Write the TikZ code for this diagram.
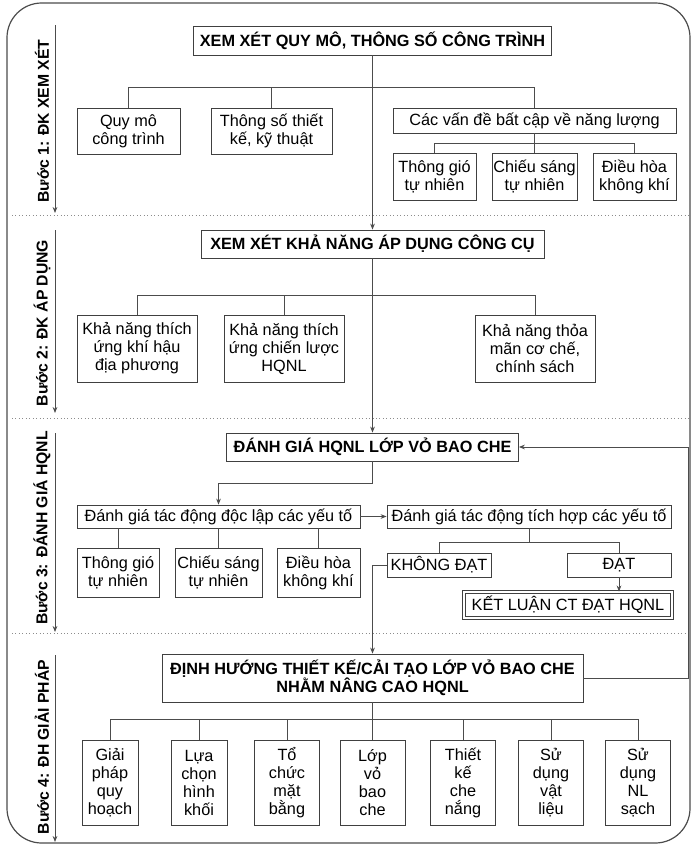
\documentclass[tikz,border=0pt]{standalone}
\usepackage{fontspec}
\setmainfont{Liberation Sans}
\usetikzlibrary{arrows.meta}
\newcommand{\pxu}{0.75pt}
\begin{document}
\begin{tikzpicture}[
  x=0.75pt, y=-0.75pt,
  box/.style={draw=black!75, line width=0.6pt, fill=white, align=center,
              inner sep=1pt, font=\fontsize{12.2}{13.5}\selectfont},
  title/.style={box, font=\fontsize{12.2}{13.5}\selectfont\bfseries},
  result/.style={box, line width=0.7pt, double=white, double distance=1pt},
  stage/.style={rotate=90, font=\fontsize{11.8}{14}\selectfont\bfseries},
  wh/.style 2 args={minimum width=#1*\pxu, minimum height=#2*\pxu},
  link/.style={draw=black!70, line width=0.6pt},
  arr/.style={link, -{Stealth[length=4.5pt, width=3.5pt]}},
  sep/.style={draw=black!45, dotted, line width=0.6pt},
  frame/.style={draw=black!70, line width=0.9pt, rounded corners=26pt}
]
\useasboundingbox (0,0) rectangle (693,846);
\draw[frame] (7,3) rectangle (690,843);

% separators between the steps
\draw[sep] (12,215) -- (690,215);
\draw[sep] (12,418) -- (690,418);
\draw[sep] (12,633) -- (690,633);

% step labels with their arrows
\node[stage] (stepa) at (42,121) {Bước 1: ĐK XEM XÉT};
\node[stage] (stepb) at (42,323) {Bước 2: ĐK ÁP DỤNG};
\node[stage] (stepc) at (42,528) {Bước 3: ĐÁNH GIÁ HQNL};
\node[stage] (stepd) at (42,747) {Bước 4: ĐH GIẢI PHÁP};
\foreach \a/\b [count=\i] in {25/213, 230/413, 433/632, 655/842} {
  \coordinate (st\i top) at (55,\a);
  \coordinate (st\i bot) at (55,\b);
  \draw[arr] (st\i top) -- (st\i bot);
}

% Buoc 1
\node[title, wh={358}{29}] (scale) at (372.5,40.5) {XEM XÉT QUY MÔ, THÔNG SỐ CÔNG TRÌNH};
\node[box, wh={103}{46}] (size)   at (128.5,131) {Quy mô\\công trình};
\node[box, wh={121}{46}] (spec)   at (271.5,131) {Thông số thiết\\kế, kỹ thuật};
\node[box, wh={283}{25}] (issue)  at (534.5,120.5) {Các vấn đề bất cập về năng lượng};
\node[box, wh={83}{47}]  (venta)  at (434.5,176.5) {Thông gió\\tự nhiên};
\node[box, wh={85}{47}]  (lighta) at (534.5,176.5) {Chiếu sáng\\tự nhiên};
\node[box, wh={83}{47}]  (hvaca)  at (634.5,176.5) {Điều hòa\\không khí};

\draw[link] (size.north) -- ++(0,-20) -| (issue.north);
\draw[link] (spec.north) -- ++(0,-20);
\draw[link] (venta.north) -- ++(0,-9) -| (hvaca.north);
\draw[link] (issue.south) -- (lighta.north);

% Buoc 2
\node[title, wh={343}{28}] (apply)    at (372.5,244) {XEM XÉT KHẢ NĂNG ÁP DỤNG CÔNG CỤ};
\node[box, wh={120}{67}]   (climate)  at (137,348.5) {Khả năng thích\\ứng khí hậu\\địa phương};
\node[box, wh={120}{67}]   (strategy) at (284,348.5) {Khả năng thích\\ứng chiến lược\\HQNL};
\node[box, wh={120}{67}]   (policy)   at (535,348.5) {Khả năng thỏa\\mãn cơ chế,\\chính sách};

\draw[link] (climate.north) -- ++(0,-19) -| (policy.north);
\draw[link] (strategy.north) -- ++(0,-19);
\draw[arr] (scale.south) -- (apply.north);

% Buoc 3
\node[title, wh={292}{28}] (eval)   at (372.5,447) {ĐÁNH GIÁ HQNL LỚP VỎ BAO CHE};
\node[box, wh={283}{23}]   (indep)  at (218.5,516.5) {Đánh giá tác động độc lập các yếu tố};
\node[box, wh={284}{23}]   (integ)  at (529,516.5) {Đánh giá tác động tích hợp các yếu tố};
\node[box, wh={82}{49}]    (ventb)  at (118,572.5) {Thông gió\\tự nhiên};
\node[box, wh={87}{49}]    (lightb) at (218.5,572.5) {Chiếu sáng\\tự nhiên};
\node[box, wh={83}{49}]    (hvacb)  at (318.5,572.5) {Điều hòa\\không khí};
\node[box, wh={104}{24}]   (fail)   at (439,565) {KHÔNG ĐẠT};
\node[box, wh={104}{24}]   (pass)   at (619,565) {ĐẠT};
\node[result, wh={208}{26}] (concl) at (568,605) {KẾT LUẬN CT ĐẠT HQNL};

\draw[arr] (apply.south) -- (eval.north);
\draw[arr] (eval.south) -- ++(0,22) -| (indep.north);
\draw[arr] (indep.east) -- (integ.west);
\draw[link] (indep.south -| ventb.north) -- (ventb.north);
\draw[link] (indep.south) -- (lightb.north);
\draw[link] (indep.south -| hvacb.north) -- (hvacb.north);
\draw[link] (integ.south) -- ++(0,15);
\draw[link] (fail.north) -- ++(0,-10) -| (pass.north);
\draw[arr] (pass.south) -- (pass.south |- concl.north);

% Buoc 4
\node[title, wh={421}{48}] (plan) at (372.5,678)
  {ĐỊNH HƯỚNG THIẾT KẾ/CẢI TẠO LỚP VỎ BAO CHE\\NHẰM NÂNG CAO HQNL};
\node[box, wh={56}{85}] (sola) at (110,782.5)   {Giải\\pháp\\quy\\hoạch};
\node[box, wh={56}{85}] (solb) at (199,782.5)   {Lựa\\chọn\\hình\\khối};
\node[box, wh={65}{85}] (solc) at (287,782.5)   {Tổ\\chức\\mặt\\bằng};
\node[box, wh={65}{85}] (sold) at (372.5,782.5) {Lớp\\vỏ\\bao\\che};
\node[box, wh={65}{85}] (sole) at (463,782.5)   {Thiết\\kế\\che\\nắng};
\node[box, wh={65}{85}] (solf) at (551,782.5)   {Sử\\dụng\\vật\\liệu};
\node[box, wh={65}{85}] (solg) at (638,782.5)   {Sử\\dụng\\NL\\sạch};

\draw[arr] (fail.west) -| (plan.north);
\draw[arr] (plan.east) -- ++(105,0) |- (eval.east);
\draw[link] (sola.north) -- ++(0,-20) -| (solg.north);
\foreach \n in {solb,solc,sole,solf}
  \draw[link] (\n.north) -- ++(0,-20);
\draw[link] (plan.south) -- (sold.north);
\end{tikzpicture}
\end{document}
